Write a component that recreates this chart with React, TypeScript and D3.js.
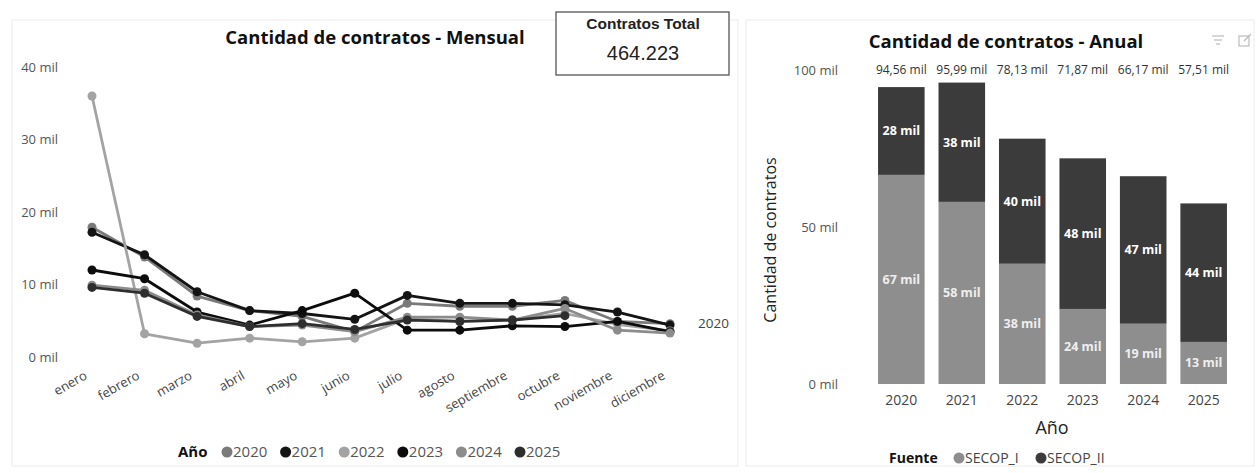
import React from "react";
import * as d3 from "d3";

// ---- datos ----
const months = [
  "enero", "febrero", "marzo", "abril", "mayo", "junio",
  "julio", "agosto", "septiembre", "octubre", "noviembre", "diciembre",
];

const years = ["2020", "2021", "2022", "2023", "2024", "2025"];

// contratos por mes (miles)
const m2020 = [17.9, 13.8, 8.4, 6.4, 5.6, 3.5, 7.4, 7.0, 7.0, 7.8, 4.9, 4.6];
const m2021 = [17.2, 14.1, 9.0, 6.4, 6.0, 5.2, 8.5, 7.4, 7.4, 7.2, 6.2, 4.4];
const m2022 = [36.0, 3.2, 1.9, 2.6, 2.1, 2.6, 5.3, 4.9, 5.1, 6.0, 4.5, 3.6];
const m2023 = [12.0, 10.8, 6.2, 4.4, 6.4, 8.8, 3.7, 3.7, 4.3, 4.2, 4.9, 3.5];
const m2024 = [9.9, 9.2, 5.8, 4.2, 4.4, 3.5, 5.5, 5.5, 5.1, 6.7, 3.7, 3.3];
const m2025 = [9.6, 8.8, 5.6, 4.2, 4.6, 3.8, 5.1, 4.9, 5.1, 5.7];

const monthlySeries = [m2020, m2021, m2022, m2023, m2024, m2025];
const yearColors = ["#7a7a7a", "#141414", "#a3a3a3", "#0c0c0c", "#8c8c8c", "#2e2e2e"];

// contratos por año y fuente (miles)
const secopI = [66.6, 58.0, 38.3, 23.9, 19.2, 13.4];
const secopII = [27.96, 37.99, 39.83, 47.97, 46.97, 44.11];
const fuentes = ["SECOP_I", "SECOP_II"];
const fuenteColors = ["#8e8e8e", "#3b3b3b"];

const lineTicks = [0, 10, 20, 30, 40];
const barTicks = [0, 50, 100];
const totalContratos = "464.223";

const FONT = "'Open Sans', 'Noto Sans', sans-serif";
const ARIAL = "'Liberation Sans', Arial, sans-serif";

const App: React.FC = () => {
  // ---------- gráfico mensual ----------
  const xM = d3.scalePoint<string>().domain(months).range([92, 670]);
  const yM = d3.scaleLinear().domain([0, 40]).range([357, 67]);
  const line = d3
    .line<number>()
    .x((_, i) => xM(months[i]) as number)
    .y((d) => yM(d));

  // ---------- gráfico anual ----------
  const xA = d3
    .scaleBand<string>()
    .domain(years)
    .range([872, 1233])
    .paddingInner(0.23)
    .paddingOuter(0.1);
  const yA = d3.scaleLinear().domain([0, 100]).range([384, 70]);
  const stackData = years.map((y, i) => ({ year: y, SECOP_I: secopI[i], SECOP_II: secopII[i] }));
  const stacked = d3.stack<any>().keys(fuentes)(stackData);

  const fmtTotal = (v: number) => `${v.toFixed(2).replace(".", ",")} mil`;

  const lastIdx2020 = m2020.length - 1;

  return (
    <svg
      width={1259}
      height={473}
      style={{ position: "absolute", left: 0, top: 0, background: "#fff", fontFamily: FONT }}
    >
      {/* marcos */}
      <rect x={12} y={20} width={726} height={446} fill="none" stroke="#ececec" />
      <rect x={746} y={20} width={508} height={446} fill="none" stroke="#ececec" />

      {/* ====== Mensual ====== */}
      <text x={375} y={38} dy="0.35em" textAnchor="middle" fontSize={18.5} fontWeight={700} fill="#111">
        Cantidad de contratos - Mensual
      </text>

      {lineTicks.map((t) => (
        <text key={t} x={58} y={yM(t)} dy="0.35em" textAnchor="end" fontSize={13} fill="#555">
          {t} mil
        </text>
      ))}

      {months.map((m) => (
        <text
          key={m}
          transform={`translate(${(xM(m) as number) - 4},${378}) rotate(-30)`}
          textAnchor="end"
          fontSize={13}
          fill="#444"
        >
          {m}
        </text>
      ))}

      {monthlySeries.map((s, si) => (
        <g key={years[si]}>
          <path d={line(s) || ""} fill="none" stroke={yearColors[si]} strokeWidth={2.8} strokeLinejoin="round" />
          {s.map((v, i) => (
            <circle key={i} cx={xM(months[i]) as number} cy={yM(v)} r={4.5} fill={yearColors[si]} />
          ))}
        </g>
      ))}

      <text
        x={(xM(months[lastIdx2020]) as number) + 28}
        y={yM(m2020[lastIdx2020])}
        dy="0.35em"
        fontSize={13.5}
        fill="#444"
      >
        2020
      </text>

      {/* leyenda mensual */}
      <g transform="translate(178,452)">
        <text x={0} y={0} dy="0.35em" fontSize={15} fontWeight={700} fill="#111">
          Año
        </text>
        {years.map((y, i) => (
          <g key={y} transform={`translate(${49 + i * 58.6},0)`}>
            <circle cx={0} cy={0} r={5.5} fill={yearColors[i]} />
            <text x={6} y={0} dy="0.35em" fontSize={15} fill="#555">
              {y}
            </text>
          </g>
        ))}
      </g>

      {/* tarjeta total */}
      <rect x={556} y={12} width={173} height={63} fill="#fff" stroke="#555" strokeWidth={1.3} />
      <text x={643} y={24} dy="0.35em" textAnchor="middle" fontSize={15.5} fontWeight={700} fill="#222"
        fontFamily={ARIAL}>
        Contratos Total
      </text>
      <text x={643} y={53} dy="0.35em" textAnchor="middle" fontSize={20} fill="#222"
        fontFamily={ARIAL}>
        {totalContratos}
      </text>

      {/* ====== Anual ====== */}
      <text x={1006} y={42} dy="0.35em" textAnchor="middle" fontSize={18.5} fontWeight={700} fill="#111">
        Cantidad de contratos - Anual
      </text>
      {/* iconos */}
      <g stroke="#bbb" strokeWidth={1.2} fill="none">
        <line x1={1212} y1={36} x2={1224} y2={36} />
        <line x1={1214} y1={40} x2={1222} y2={40} />
        <line x1={1216} y1={44} x2={1220} y2={44} />
        <rect x={1239} y={36} width={10} height={10} />
        <line x1={1244} y1={41} x2={1251} y2={34} />
      </g>

      {barTicks.map((t) => (
        <text key={t} x={838} y={yA(t)} dy="0.35em" textAnchor="end" fontSize={13} fill="#555">
          {t} mil
        </text>
      ))}

      <text
        transform={`translate(776,240) rotate(-90)`}
        textAnchor="middle"
        fontSize={16}
        fill="#222"
      >
        Cantidad de contratos
      </text>

      {stacked.map((layer, li) => (
        <g key={layer.key}>
          {layer.map((d: any, i: number) => (
            <g key={i}>
              <rect
                x={xA(years[i])}
                y={yA(d[1])}
                width={xA.bandwidth()}
                height={yA(d[0]) - yA(d[1])}
                fill={fuenteColors[li]}
              />
              <text
                x={(xA(years[i]) as number) + xA.bandwidth() / 2}
                y={(yA(d[0]) + yA(d[1])) / 2}
                dy="0.35em"
                textAnchor="middle"
                fontSize={12.5}
                fontWeight={700}
                fill={li === 0 ? "#eeeeee" : "#ffffff"}
              >
                {Math.round(d[1] - d[0])} mil
              </text>
            </g>
          ))}
        </g>
      ))}

      {years.map((y, i) => (
        <text
          key={`tot-${y}`}
          x={(xA(y) as number) + xA.bandwidth() / 2}
          y={yA(100)}
          dy="0.35em"
          textAnchor="middle"
          fontSize={12}
          fill="#333"
        >
          {fmtTotal(secopI[i] + secopII[i])}
        </text>
      ))}

      {years.map((y) => (
        <text
          key={`x-${y}`}
          x={(xA(y) as number) + xA.bandwidth() / 2}
          y={400}
          dy="0.35em"
          textAnchor="middle"
          fontSize={14}
          fill="#444"
        >
          {y}
        </text>
      ))}
      <text x={1052} y={428} dy="0.35em" textAnchor="middle" fontSize={18} fill="#222">
        Año
      </text>

      {/* leyenda anual */}
      <g transform="translate(889,458)">
        <text x={0} y={0} dy="0.35em" fontSize={14} fontWeight={700} fill="#111">
          Fuente
        </text>
        {fuentes.map((f, i) => (
          <g key={f} transform={`translate(${70 + i * 82},0)`}>
            <circle cx={0} cy={0} r={5.5} fill={fuenteColors[i]} />
            <text x={6} y={0} dy="0.35em" fontSize={14} fill="#444">
              {f}
            </text>
          </g>
        ))}
      </g>
    </svg>
  );
};

export default App;
